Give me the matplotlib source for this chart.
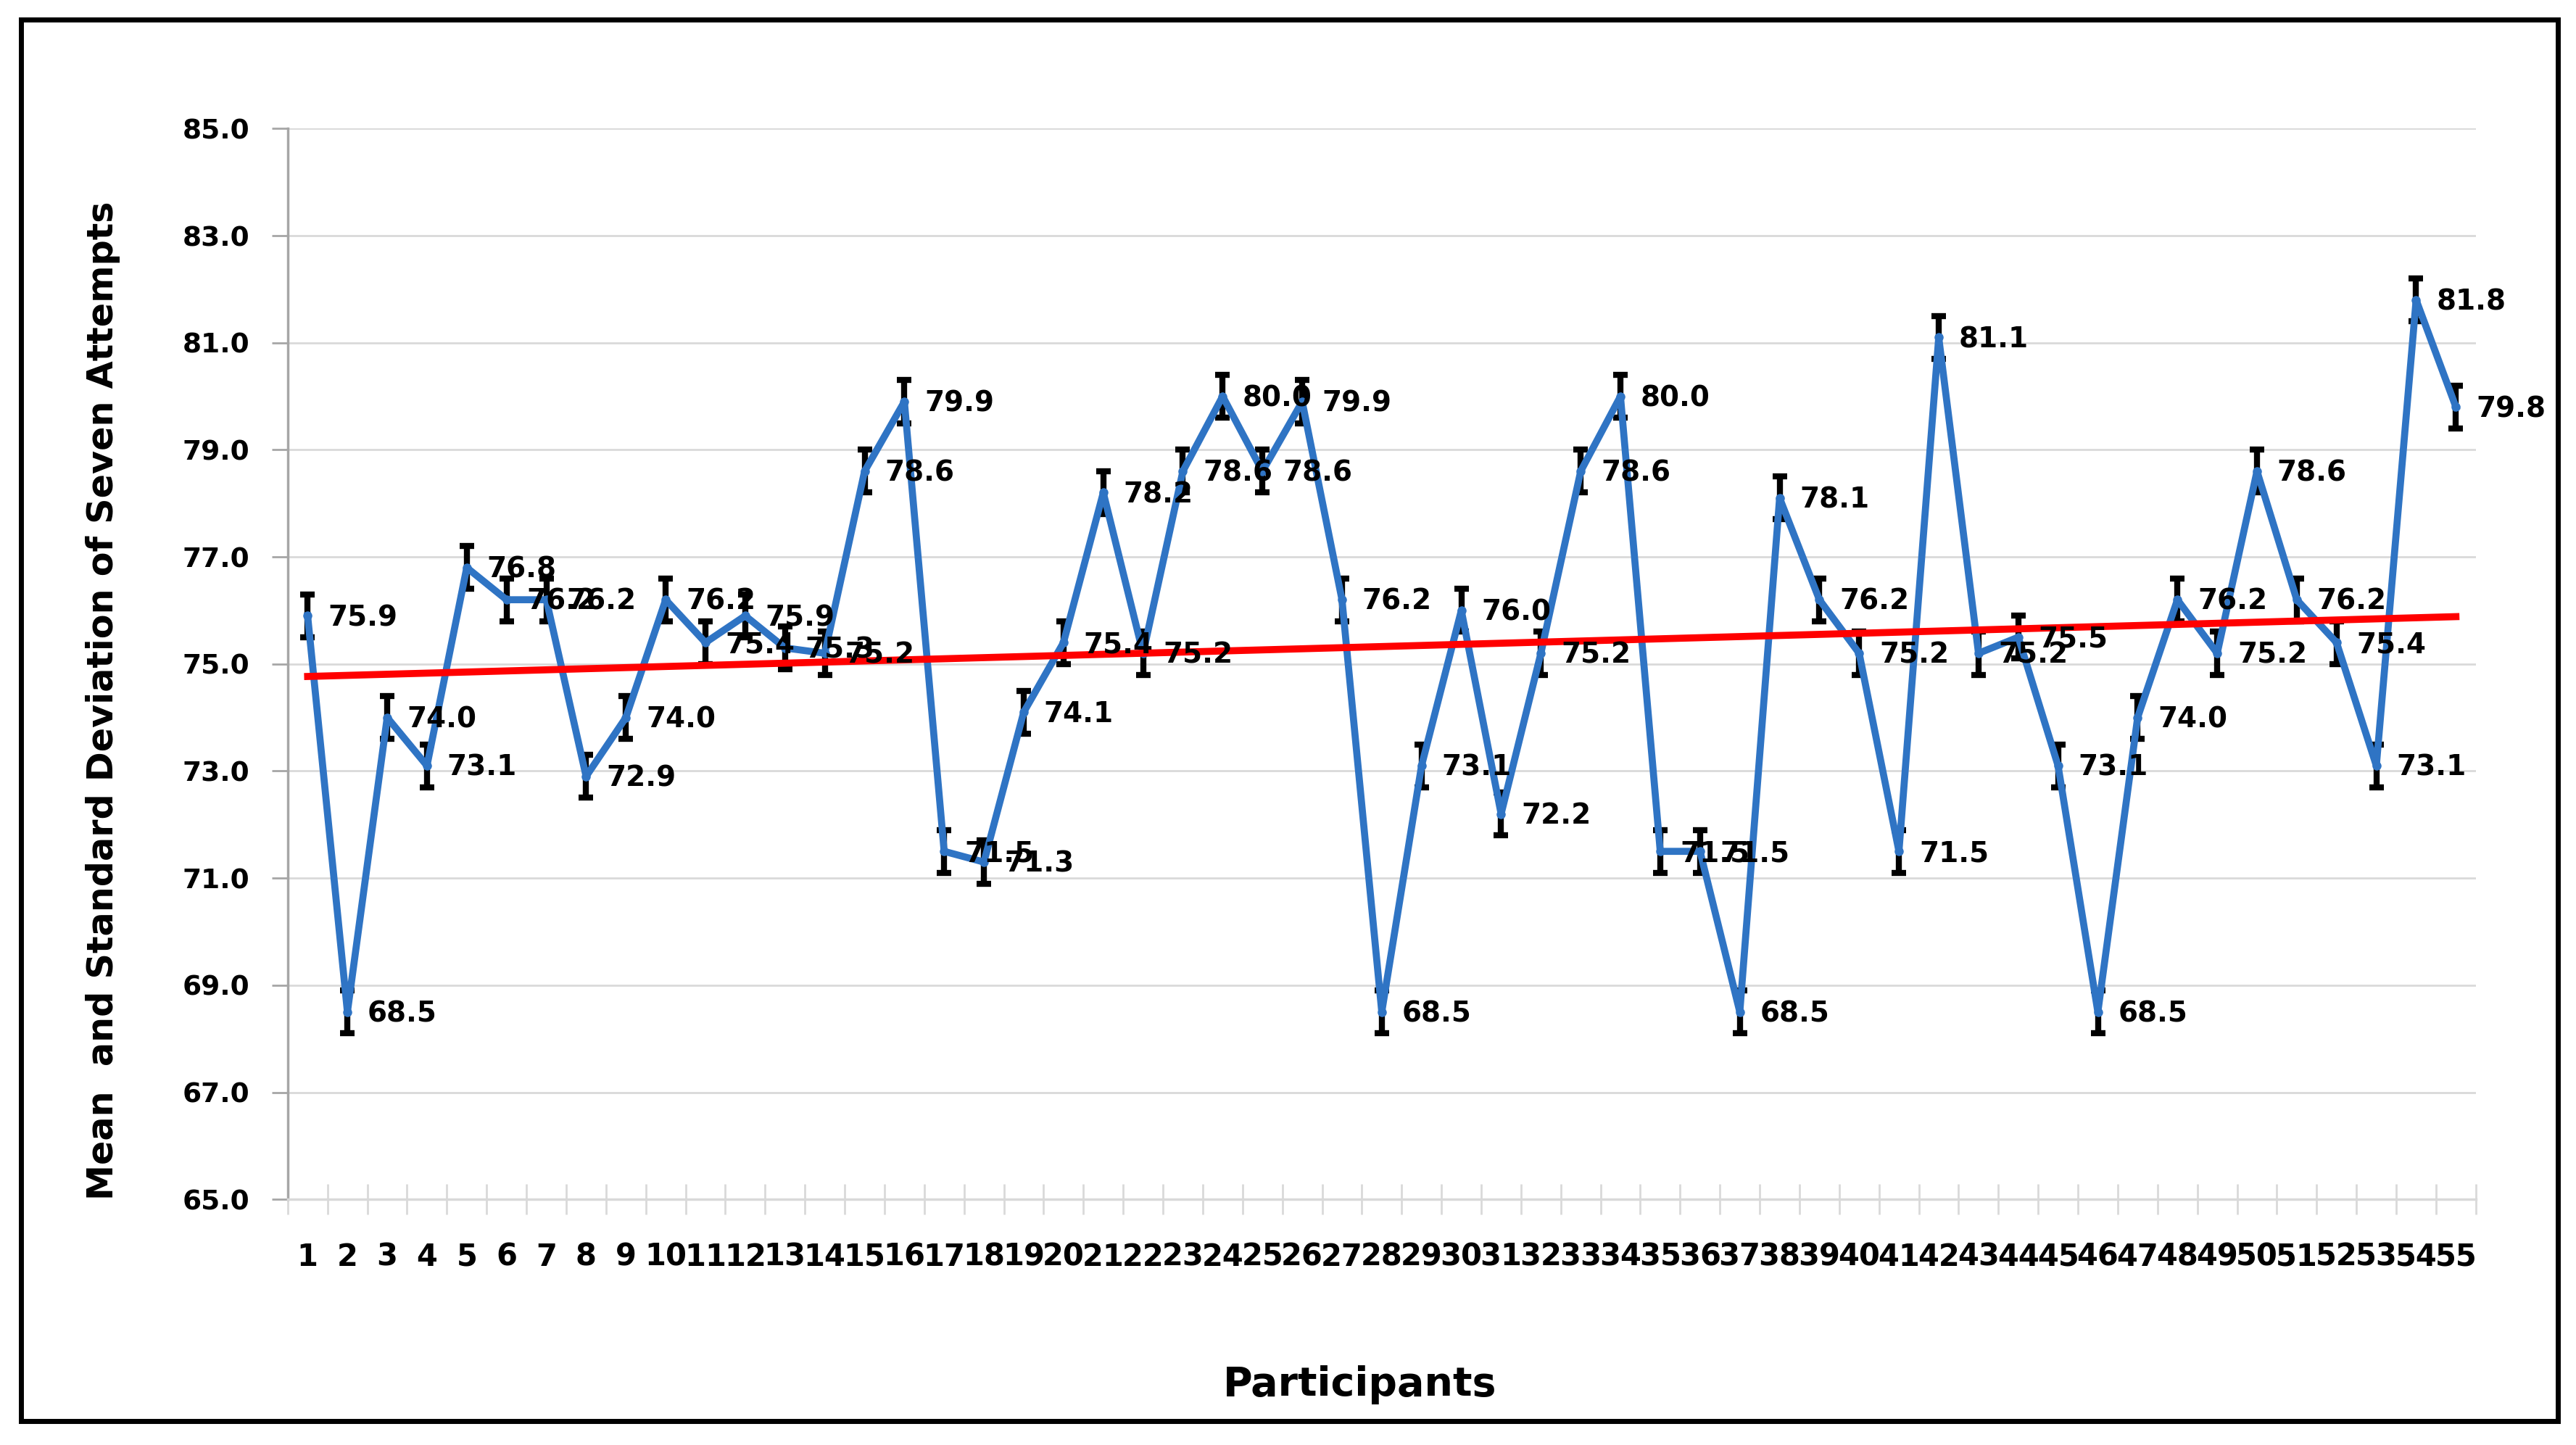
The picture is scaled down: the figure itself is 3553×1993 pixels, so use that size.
import numpy as np
import matplotlib
matplotlib.use("Agg")
import matplotlib.pyplot as plt
from matplotlib.patches import Rectangle
from matplotlib.ticker import FixedLocator

# Participants 1..55
participants = list(range(1, 56))

# Mean of seven attempts
mean_scores = [
    75.9, 68.5, 74.0, 73.1, 76.8, 76.2, 76.2, 72.9, 74.0, 76.2,
    75.4, 75.9, 75.3, 75.2, 78.6, 79.9, 71.5, 71.3, 74.1, 75.4,
    78.2, 75.2, 78.6, 80.0, 78.6, 79.9, 76.2, 68.5, 73.1, 76.0,
    72.2, 75.2, 78.6, 80.0, 71.5, 71.5, 68.5, 78.1, 76.2, 75.2,
    71.5, 81.1, 75.2, 75.5, 73.1, 68.5, 74.0, 76.2, 75.2, 78.6,
    76.2, 75.4, 73.1, 81.8, 79.8,
]

# Standard deviation (estimated from error bar heights)
sd_scores = [
    0.4, 0.4, 0.4, 0.4, 0.4, 0.4, 0.4, 0.4, 0.4, 0.4,
    0.4, 0.4, 0.4, 0.4, 0.4, 0.4, 0.4, 0.4, 0.4, 0.4,
    0.4, 0.4, 0.4, 0.4, 0.4, 0.4, 0.4, 0.4, 0.4, 0.4,
    0.4, 0.4, 0.4, 0.4, 0.4, 0.4, 0.4, 0.4, 0.4, 0.4,
    0.4, 0.4, 0.4, 0.4, 0.4, 0.4, 0.4, 0.4, 0.4, 0.4,
    0.4, 0.4, 0.4, 0.4, 0.4,
]

y_ticks = [65.0, 67.0, 69.0, 71.0, 73.0, 75.0, 77.0, 79.0, 81.0, 83.0, 85.0]

AZUL = "#2F74C4"

fig = plt.figure(figsize=(35.53, 19.93), dpi=100)
ax = fig.add_axes([0.1117, 0.170, 0.8494, 0.741])

x = np.array(participants)
y = np.array(mean_scores)

# linha principal com barras de erro
ax.errorbar(x, y, yerr=sd_scores, color=AZUL, ecolor="black", elinewidth=6,
            capsize=7, capthick=6, linewidth=7, marker="o", markersize=8,
            zorder=3)

# linha de tendencia linear (tipo Excel)
coef = np.polyfit(x, y, 1)
ax.plot(x, np.polyval(coef, x), color="#FF0000", linewidth=7, zorder=4)

# rotulos de dados
for xi, yi in zip(participants, mean_scores):
    ax.annotate(f"{yi:.1f}", (xi, yi), xytext=(20, -2), textcoords="offset points",
                ha="left", va="center", fontsize=28, fontweight="bold",
                color="black", zorder=5)

ax.set_xlim(0.5, 55.5)
ax.set_ylim(65, 85)
ax.set_yticks(y_ticks)
ax.set_yticklabels([f"{v:.1f}" for v in y_ticks], fontsize=27, fontweight="bold")
ax.yaxis.grid(True, color="#D9D9D9", linewidth=2)
ax.set_axisbelow(True)

ax.set_xticks(participants)
ax.set_xticklabels([str(p) for p in participants], fontsize=30, fontweight="bold")
ax.xaxis.set_minor_locator(FixedLocator(np.arange(0.5, 56, 1)))
ax.tick_params(axis="x", which="major", length=0, pad=42)
ax.tick_params(axis="x", which="minor", length=30, width=2, color="#D9D9D9",
               direction="inout")
ax.tick_params(axis="y", which="major", length=16, width=2, color="#A6A6A6", pad=22)

for lado in ["top", "right"]:
    ax.spines[lado].set_visible(False)
ax.spines["left"].set_color("#A6A6A6")
ax.spines["left"].set_linewidth(2.5)
ax.spines["bottom"].set_color("#D9D9D9")
ax.spines["bottom"].set_linewidth(2.5)

fig.text(0.040, 0.515, "Mean  and Standard Deviation of Seven Attempts",
         rotation=90, ha="center", va="center", fontsize=35.5, fontweight="bold")
fig.text(0.528, 0.0416, "Participants", ha="center", va="center",
         fontsize=40, fontweight="bold")

# moldura preta
fig.patches.append(Rectangle((0.0082, 0.0166), 0.9848, 0.9698,
                             transform=fig.transFigure, fill=False,
                             edgecolor="black", linewidth=5))

fig.savefig("out.png", dpi=100)
